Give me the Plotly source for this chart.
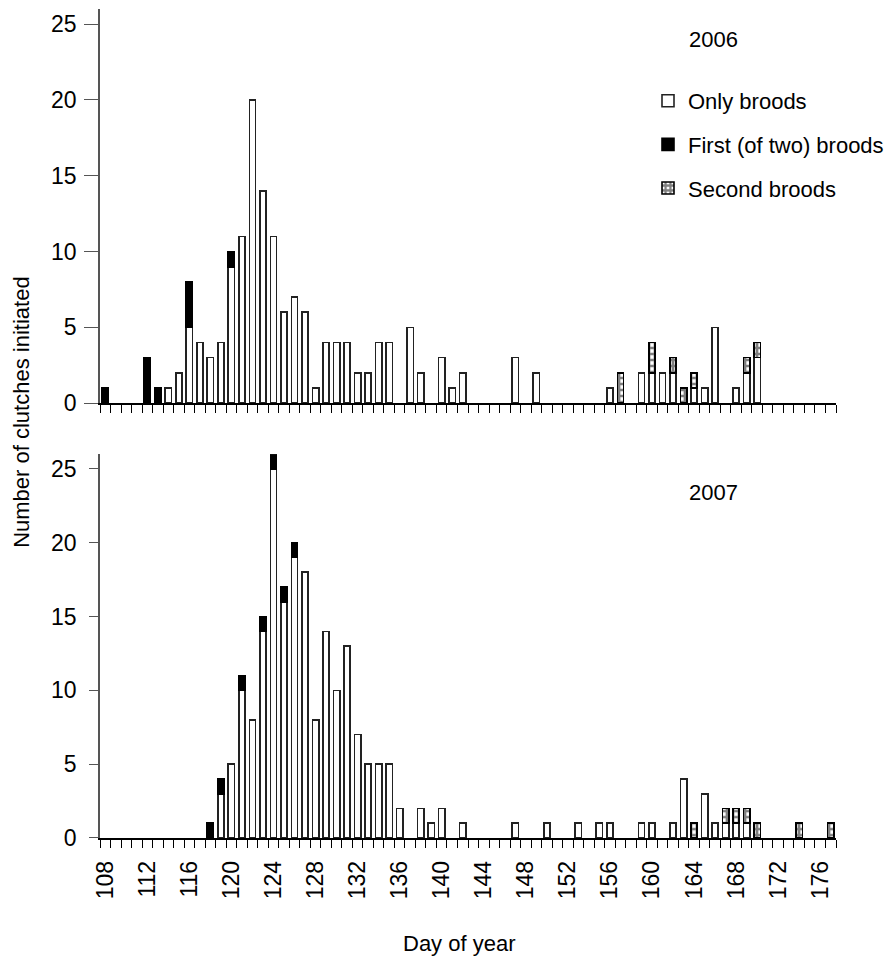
import plotly.graph_objects as go

# ---------------- data ----------------
days = list(range(108, 178))  # day of year 108..177

# 2006 (rows of 10 days, starting at day 108)
only_2006 = [0, 0, 0, 0, 0, 0, 1, 2, 5, 4,
             3, 4, 9, 11, 20, 14, 11, 6, 7, 6,
             1, 4, 4, 4, 2, 2, 4, 4, 0, 5,
             2, 0, 3, 1, 2, 0, 0, 0, 0, 3,
             0, 2, 0, 0, 0, 0, 0, 0, 1, 0,
             0, 2, 2, 2, 2, 0, 1, 1, 5, 0,
             1, 2, 3, 0, 0, 0, 0, 0, 0, 0]
first_2006 = [1, 0, 0, 0, 3, 1, 0, 0, 3, 0,
              0, 0, 1, 0, 0, 0, 0, 0, 0, 0,
              0, 0, 0, 0, 0, 0, 0, 0, 0, 0,
              0, 0, 0, 0, 0, 0, 0, 0, 0, 0,
              0, 0, 0, 0, 0, 0, 0, 0, 0, 0,
              0, 0, 0, 0, 0, 0, 0, 0, 0, 0,
              0, 0, 0, 0, 0, 0, 0, 0, 0, 0]
second_2006 = [0, 0, 0, 0, 0, 0, 0, 0, 0, 0,
               0, 0, 0, 0, 0, 0, 0, 0, 0, 0,
               0, 0, 0, 0, 0, 0, 0, 0, 0, 0,
               0, 0, 0, 0, 0, 0, 0, 0, 0, 0,
               0, 0, 0, 0, 0, 0, 0, 0, 0, 2,
               0, 0, 2, 0, 1, 1, 1, 0, 0, 0,
               0, 1, 1, 0, 0, 0, 0, 0, 0, 0]

# 2007
only_2007 = [0, 0, 0, 0, 0, 0, 0, 0, 0, 0,
             0, 3, 5, 10, 8, 14, 25, 16, 19, 18,
             8, 14, 10, 13, 7, 5, 5, 5, 2, 0,
             2, 1, 2, 0, 1, 0, 0, 0, 0, 1,
             0, 0, 1, 0, 0, 1, 0, 1, 1, 0,
             0, 1, 1, 0, 1, 4, 0, 3, 1, 1,
             1, 1, 0, 0, 0, 0, 0, 0, 0, 0]
first_2007 = [0, 0, 0, 0, 0, 0, 0, 0, 0, 0,
              1, 1, 0, 1, 0, 1, 1, 1, 1, 0,
              0, 0, 0, 0, 0, 0, 0, 0, 0, 0,
              0, 0, 0, 0, 0, 0, 0, 0, 0, 0,
              0, 0, 0, 0, 0, 0, 0, 0, 0, 0,
              0, 0, 0, 0, 0, 0, 0, 0, 0, 0,
              0, 0, 0, 0, 0, 0, 0, 0, 0, 0]
second_2007 = [0, 0, 0, 0, 0, 0, 0, 0, 0, 0,
               0, 0, 0, 0, 0, 0, 0, 0, 0, 0,
               0, 0, 0, 0, 0, 0, 0, 0, 0, 0,
               0, 0, 0, 0, 0, 0, 0, 0, 0, 0,
               0, 0, 0, 0, 0, 0, 0, 0, 0, 0,
               0, 0, 0, 0, 0, 0, 1, 0, 0, 1,
               1, 1, 1, 0, 0, 0, 1, 0, 0, 1]

tick_days = list(range(108, 177, 4))
tick_text = [str(d) for d in tick_days]
y_ticks = [0, 5, 10, 15, 20, 25]
series_names = ["Only broods", "First (of two) broods", "Second broods"]
year_labels = ["2006", "2007"]

FONT = "Liberation Sans, Arial, Helvetica, sans-serif"
OUTLINE = "#222222"


def nz(vals):
    return [v if v else None for v in vals]


fig = go.Figure()

panels = [("x", "y", only_2006, first_2006, second_2006, True),
          ("x2", "y2", only_2007, first_2007, second_2007, False)]

for xa, ya, only, first, second, show in panels:
    fig.add_trace(go.Bar(
        x=days, y=nz(only), xaxis=xa, yaxis=ya, name=series_names[0],
        legendgroup="a", showlegend=show, width=0.6,
        marker=dict(color="white", line=dict(color=OUTLINE, width=1.6))))
    fig.add_trace(go.Bar(
        x=days, y=nz(first), xaxis=xa, yaxis=ya, name=series_names[1],
        legendgroup="b", showlegend=show, width=0.6,
        marker=dict(color="black", line=dict(color="black", width=1.6))))
    fig.add_trace(go.Bar(
        x=days, y=nz(second), xaxis=xa, yaxis=ya, name=series_names[2],
        legendgroup="c", showlegend=show, width=0.6,
        marker=dict(color="white", line=dict(color="black", width=1.6),
                    pattern=dict(shape="+", fgcolor="black", bgcolor="white",
                                 size=6, solidity=0.7, fillmode="overlay"))))

xcommon = dict(
    range=[107.5, 177.5], showline=True, linecolor="black", linewidth=1.5,
    showgrid=False, zeroline=False, tickmode="array", tickvals=tick_days,
    ticktext=tick_text, ticks="", tickangle=-90,
    tickfont=dict(family=FONT, size=23, color="black"),
    minor=dict(ticks="outside", ticklen=8, tickwidth=1, tickcolor="black",
               tickmode="linear", tick0=107.5, dtick=1, showgrid=False),
)
ycommon = dict(
    range=[0, 26], showline=True, linecolor="#555555", linewidth=1.5,
    showgrid=False, zeroline=False, tickmode="array",
    tickvals=y_ticks, ticks="outside",
    tickcolor="#555555", tickfont=dict(family=FONT, size=23, color="black"),
)

# The page adds an 8px body margin, so the figure is 8px smaller than the window.
W, H = 886, 949
L, R, T, B = 92, 58, 1, 118.7
PW, PH = W - L - R, H - T - B


def px(xs):   # screen x -> paper x
    return (xs - 8 - L) / PW


def py(ys):   # screen y -> paper y
    return (H - B - (ys - 8)) / PH


ann_font = dict(family=FONT, size=22, color="black")

fig.update_layout(
    width=W, height=H,
    margin=dict(l=L, r=R, t=T, b=B),
    paper_bgcolor="white", plot_bgcolor="white",
    barmode="stack",
    font=dict(family=FONT, size=22, color="black"),
    xaxis=dict(xcommon, anchor="y", showticklabels=False),
    yaxis=dict(ycommon, domain=[py(403.3), 1.0], anchor="x",
               ticklen=14, ticklabelstandoff=3),
    xaxis2=dict(xcommon, anchor="y2", ticklabelstandoff=12),
    yaxis2=dict(ycommon, domain=[0.0, py(454.3)], anchor="x2",
                ticklen=9, ticklabelstandoff=8),
    legend=dict(x=px(648), y=py(80), xanchor="left", yanchor="top",
                traceorder="grouped", tracegroupgap=12,
                font=dict(family=FONT, size=22, color="black"),
                bgcolor="rgba(0,0,0,0)"),
    showlegend=True,
    annotations=[
        dict(text=year_labels[0], xref="paper", yref="paper",
             x=px(713), y=py(40), xanchor="center", yanchor="middle",
             showarrow=False, font=ann_font),
        dict(text=year_labels[1], xref="paper", yref="paper",
             x=px(713), y=py(493), xanchor="center", yanchor="middle",
             showarrow=False, font=ann_font),
        dict(text="Day of year", xref="paper", yref="paper",
             x=px(459), y=py(944), xanchor="center", yanchor="middle",
             showarrow=False, font=ann_font),
        dict(text="Number of clutches initiated", xref="paper", yref="paper",
             x=px(22), y=py(413), xanchor="center", yanchor="middle",
             textangle=-90, showarrow=False, font=ann_font),
    ],
)

fig.write_html("out.html")
